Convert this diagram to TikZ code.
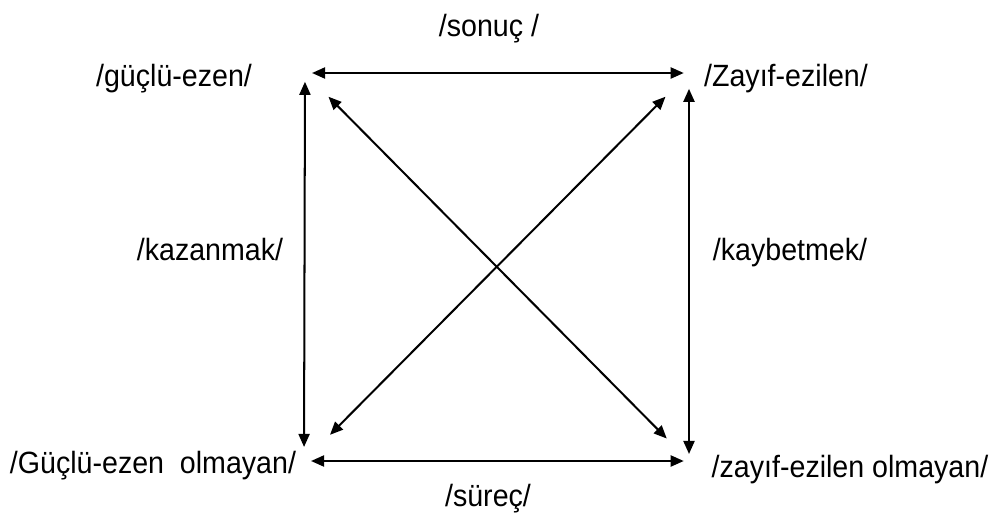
\documentclass[tikz,border=0pt]{standalone}
\usepackage{fontspec}
\setmainfont[FakeStretch=0.93]{Liberation Sans}
\usetikzlibrary{arrows.meta}

\begin{document}
\begin{tikzpicture}[
    x=0.02cm, y=-0.02cm,
    font=\fontsize{17.5}{21}\selectfont,
    >={Triangle[length=2.6mm,width=2.2mm]},
    term/.style={inner sep=0pt, text=black, anchor=base},
    rel/.style={<->, line width=1.15pt, black},
]
    \useasboundingbox (0,0) rectangle (1000,521);

    % ============================================================
    %  CORNERS OF THE SQUARE
    % ============================================================
    \coordinate (tl) at (305,73);
    \coordinate (tr) at (689,73);
    \coordinate (bl) at (304,461);
    \coordinate (br) at (689,461);

    % ============================================================
    %  TERMS (placed on their baselines)
    % ============================================================
    \node[term] (sonuc)    at (489,36)  {/sonuç /};
    \node[term] (guclu)    at (174,86)  {/güçlü-ezen/};
    \node[term] (zayif)    at (786,86)  {/Zayıf-ezilen/};
    \node[term] (kazan)    at (210,260) {/kazanmak/};
    \node[term] (kaybet)   at (790,260) {/kaybetmek/};
    \node[term] (gucluDeg) at (153,473) {/Güçlü-ezen\ \ olmayan/};
    \node[term] (zayifDeg) at (850,477) {/zayıf-ezilen olmayan/};
    \node[term] (surec)    at (488,506) {/süreç/};

    % ============================================================
    %  RELATIONS
    % ============================================================
    % sides
    \draw[rel, shorten <=4pt, shorten >=3pt] (tl) -- (tr);
    \draw[rel, shorten <=4pt, shorten >=3pt] (bl) -- (br);
    \draw[rel, shorten <=5pt, shorten >=8pt] (tl) -- (bl);
    \draw[rel, shorten <=9pt, shorten >=4pt] (tr) -- (br);
    % diagonals
    \draw[rel, shorten <=19pt, shorten >=18pt] (tl) -- (br);
    \draw[rel, shorten <=21pt, shorten >=19pt] (bl) -- (tr);

\end{tikzpicture}
\end{document}
